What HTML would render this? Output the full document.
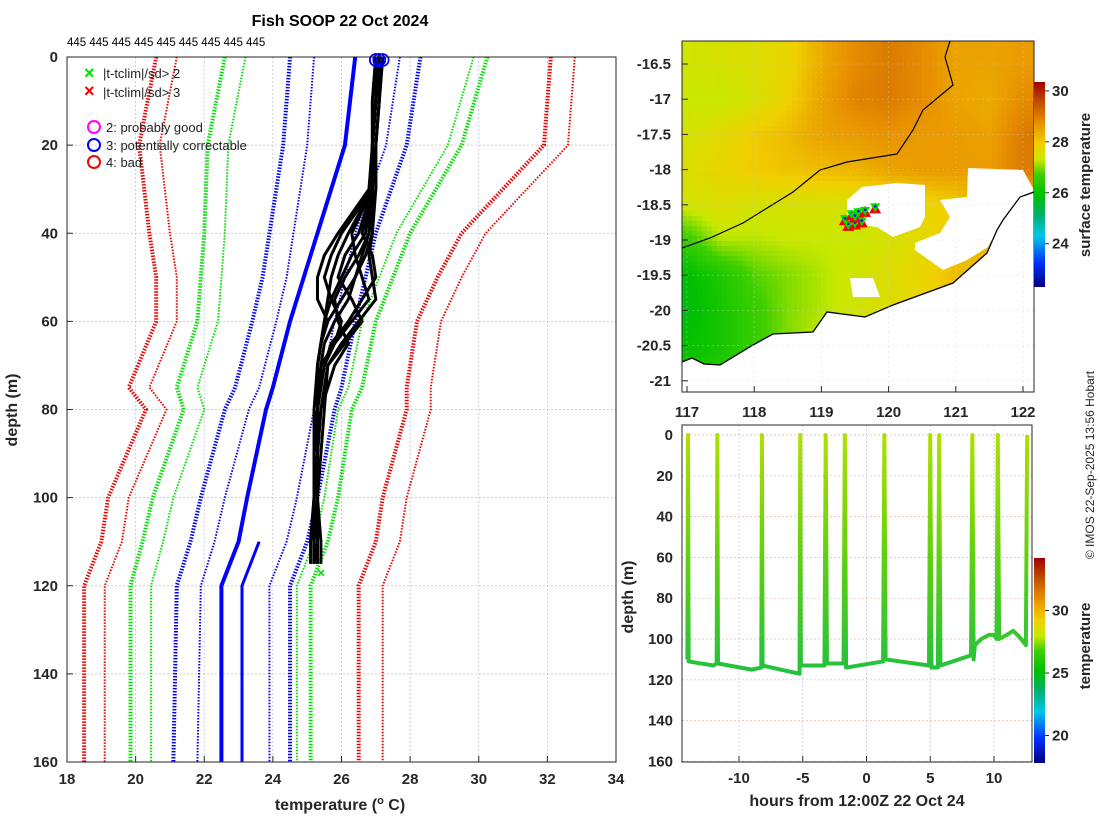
<!DOCTYPE html>
<html><head><meta charset="utf-8"><style>
body{margin:0;background:#fff}
svg{display:block;font-family:"Liberation Sans",sans-serif}
.tk{font-weight:bold;font-size:15px;fill:#262626}
</style></head><body>
<svg id="s" width="1100" height="820" viewBox="0 0 1100 820">
<defs>
<linearGradient id="cmap" x1="0" y1="1" x2="0" y2="0">
<stop offset="0" stop-color="#000080"/><stop offset="0.12" stop-color="#0030ff"/><stop offset="0.25" stop-color="#00c8e8"/><stop offset="0.35" stop-color="#00b070"/><stop offset="0.45" stop-color="#00c000"/><stop offset="0.55" stop-color="#40d000"/><stop offset="0.62" stop-color="#c8e800"/><stop offset="0.7" stop-color="#f0d000"/><stop offset="0.8" stop-color="#e89000"/><stop offset="0.9" stop-color="#c05000"/><stop offset="1" stop-color="#a00000"/>
</linearGradient>
<linearGradient id="trajg" gradientUnits="userSpaceOnUse" x1="0" y1="435" x2="0" y2="680">
<stop offset="0" stop-color="#b0e000"/><stop offset="0.5" stop-color="#60d010"/><stop offset="1" stop-color="#20c040"/>
</linearGradient>
<clipPath id="mapclip"><rect x="682" y="41" width="352" height="351"/></clipPath>
<clipPath id="brclip"><rect x="682" y="425" width="350" height="337"/></clipPath>
</defs>
<g id="left"></g><g id="map"></g><g id="br"></g>
<text x="340" y="26" text-anchor="middle" font-size="16" font-weight="bold">Fish SOOP 22 Oct 2024</text>
<text x="67" y="46" font-size="11.5">445 445 445 445 445 445 445 445 445</text>
<text x="340" y="810" text-anchor="middle" font-size="16" font-weight="bold" fill="#262626">temperature (<tspan font-size="11" dy="-6">o</tspan><tspan dy="6"> C)</tspan></text>
<text transform="translate(17,410) rotate(-90)" text-anchor="middle" font-size="16" font-weight="bold" fill="#262626">depth (m)</text>
<text x="857" y="806" text-anchor="middle" font-size="16" font-weight="bold" fill="#262626">hours from 12:00Z 22 Oct 24</text>
<text transform="translate(633,597) rotate(-90)" text-anchor="middle" font-size="16" font-weight="bold" fill="#262626">depth (m)</text>
<text transform="translate(1090,185) rotate(-90)" text-anchor="middle" font-size="15" font-weight="bold" fill="#262626">surface temperature</text>
<text transform="translate(1090,646) rotate(-90)" text-anchor="middle" font-size="15" font-weight="bold" fill="#262626">temperature</text>
<text transform="translate(1094,465) rotate(-90)" text-anchor="middle" font-size="12" fill="#262626">© IMOS 22-Sep-2025 13:56 Hobart</text>
<g id="lgd" font-size="13" fill="#222">
<text x="84" y="79" fill="#00e000" font-size="18" font-weight="bold">×</text><text x="103" y="78">|t-tclim|/sd&gt; 2</text>
<text x="84" y="97" fill="#f00000" font-size="18" font-weight="bold">×</text><text x="103" y="97">|t-tclim|/sd&gt; 3</text>
<circle cx="94" cy="127" r="6" fill="none" stroke="#f0f" stroke-width="2"/><text x="106" y="132">2: probably good</text>
<circle cx="94" cy="145" r="6" fill="none" stroke="#00f" stroke-width="2"/><text x="106" y="150">3: potentially correctable</text>
<circle cx="94" cy="162" r="6" fill="none" stroke="#f00" stroke-width="2"/><text x="106" y="167">4: bad</text>
</g>
</svg>
<script>
// ---------- left profile data ----------
const climDepth=[0,20,40,50,60,75,80,100,110,120,160];
const climMean=[26.4,26.1,25.3,24.9,24.5,24.0,23.8,23.25,23.0,22.5,22.5];
const sdMinus1=[24.5,24.3,23.9,23.7,23.4,22.9,22.6,21.9,21.6,21.2,21.1];
const sdPlus1=[28.3,27.9,27.0,26.7,26.4,26.0,25.8,25.3,25.0,24.5,24.5];
const sdMinus2=[22.6,22.1,22.0,21.9,21.8,21.2,21.4,20.5,20.2,19.85,19.85];
const sdPlus2=[30.25,29.5,28.0,27.5,27.0,26.6,26.3,25.9,25.6,25.1,25.1];
const sdMinus3=[20.6,20.1,20.4,20.6,20.6,19.8,20.3,19.2,19.0,18.5,18.5];
const sdPlus3=[32.1,31.9,29.5,28.8,28.2,27.9,27.9,27.2,27.0,26.5,26.5];
const prDepth=[0,10,20,30,40,45,50,55,60,65,70,80,90,100,110,115];
const profiles=[
[27.1,27.0,26.9,26.9,26.2,25.9,25.7,25.6,25.5,25.4,25.3,25.3,25.2,25.2,25.2,25.2],
[27.0,27.0,26.9,26.9,26.7,26.3,26.0,25.7,25.5,25.4,25.3,25.3,25.2,25.2,25.1,25.1],
[27.2,27.1,27.0,26.9,26.8,26.6,26.4,26.2,25.8,25.5,25.4,25.3,25.3,25.2,25.2,25.2],
[27.0,26.9,26.9,26.9,26.3,26.4,26.6,26.8,26.3,25.8,25.5,25.3,25.3,25.3,25.3,25.3],
[27.1,27.0,26.9,26.9,26.9,26.8,26.9,27.0,26.5,26.0,25.6,25.4,25.3,25.3,25.3,25.3],
[27.1,27.0,26.9,26.9,26.0,25.7,25.5,25.7,26.0,25.8,25.4,25.3,25.3,25.2,25.2,25.2],
[27.2,27.1,27.0,27.0,26.9,26.7,26.4,26.0,25.6,25.4,25.3,25.3,25.2,25.2,25.2,25.3],
[27.0,26.9,26.9,26.8,25.9,25.5,25.3,25.3,25.6,25.4,25.3,25.2,25.2,25.2,25.1,25.1],
[27.1,27.0,26.9,26.9,26.6,26.9,27.0,26.6,26.2,25.7,25.5,25.3,25.3,25.3,25.4,25.4],
[27.0,27.0,26.9,26.9,26.5,26.1,25.9,26.3,26.6,26.1,25.6,25.5,25.4,25.3,25.2,25.2],
[27.1,27.1,27.0,27.0,26.8,26.5,26.1,25.8,25.9,26.2,25.8,25.4,25.3,25.2,25.2,25.2]];
const flagTemp=[25.4], flagDepth=[117];
const tempTicks=[18,20,22,24,26,28,30,32,34];
const depthTicks=[0,20,40,60,80,100,120,140,160];
// ---------- map data ----------
const gridLon=[117,117.5,118,118.5,119,119.5,120,120.5,121,121.5,122];
const gridLat=[-16.5,-17,-17.5,-18,-18.5,-19,-19.5,-20,-20.5,-21];
const sst=[
[27.4,27.5,27.6,27.8,28.4,28.8,29.0,28.8,28.5,28.5,28.6],
[27.3,27.3,27.5,27.9,28.5,28.9,29.0,28.8,28.5,28.4,28.8],
[27.5,27.7,28.0,28.2,28.5,28.6,28.7,28.6,28.6,28.5,29.0],
[27.6,27.8,28.0,28.1,28.2,28.3,28.5,28.6,28.6,28.6,29.0],
[27.4,27.6,27.5,27.5,27.5,27.5,27.6,27.8,28.0,28.2,28.2],
[26.6,27.2,27.2,27.3,27.3,27.3,27.5,27.7,28.0,28.3,28.3],
[25.9,26.3,26.8,27.0,27.2,27.4,27.6,27.8,28.2,28.2,28.2],
[25.8,26.2,26.6,27.0,27.2,27.4,27.6,27.8,28.0,28.0,28.0],
[26.0,26.2,26.6,27.0,27.3,27.5,27.5,27.5,27.5,27.5,27.5],
[26.2,26.4,26.8,27.0,27.2,27.4,27.5,27.5,27.5,27.5,27.5]];
const lonTicks=[117,118,119,120,121,122];
const latTicks=[-16.5,-17,-17.5,-18,-18.5,-19,-19.5,-20,-20.5,-21];
const markerLon=[119.35,119.45,119.5,119.55,119.6,119.65,119.8,119.4,119.5];
const markerLat=[-18.72,-18.65,-18.78,-18.62,-18.75,-18.6,-18.55,-18.8,-18.68];
const sstCbTicks=[24,26,28,30];
// ---------- bottom-right data ----------
const trajHour=[-14.05,-14.0,-13.95,-12,-11.75,-11.7,-11.65,-9,-8.25,-8.2,-8.15,-6,-5.25,-5.2,-5.15,-3.3,-3.2,-3.1,-1.8,-1.7,-1.6,1.3,1.4,1.5,4.9,5.0,5.1,5.6,5.7,5.8,8.2,8.3,8.4,8.5,9,9.6,10.0,10.2,10.3,10.4,11,11.5,12.0,12.5,12.6];
const trajDepth=[110,0,111,113,112,0,112,115,114,0,113,116,117,0,113,113,0,112,112,0,114,111,0,110,113,0,114,114,0,113,108,0,110,103,100,98,98,100,0,100,98,96,99,103,0];
const hourTicks=[-10,-5,0,5,10];
const tempCbTicks=[20,25,30];

const svg=document.getElementById('s');const NS='http://www.w3.org/2000/svg';
function mk(tag,attrs,parent){const e=document.createElementNS(NS,tag);for(const k in attrs)e.setAttribute(k,attrs[k]);(parent||svg).appendChild(e);return e;}
function cmap(v,lo,hi){const st=[[0,0,0,128],[.12,0,48,255],[.25,0,200,232],[.35,0,176,112],[.45,0,192,0],[.55,64,208,0],[.62,200,232,0],[.7,240,208,0],[.8,232,144,0],[.9,192,80,0],[1,160,0,0]];
 let f=Math.max(0,Math.min(1,(v-lo)/(hi-lo)));for(let i=1;i<st.length;i++){if(f<=st[i][0]){const a=st[i-1],b=st[i],u=(f-a[0])/(b[0]-a[0]);return `rgb(${[1,2,3].map(j=>Math.round(a[j]+u*(b[j]-a[j]))).join(',')})`;}}return 'rgb(160,0,0)';}

// ===== LEFT PLOT =====
const tx=t=>67+(t-18)*549/16, dy=d=>57+d*705/160;
const L=document.getElementById('left');
tempTicks.forEach(t=>{if(t>18&&t<34){const g=mk('line',{x1:tx(t),x2:tx(t),y1:57,y2:762,stroke:'#b8c4dc','stroke-width':0.8,'stroke-dasharray':'2 2'},L);}
 const lb=mk('text',{x:tx(t),y:784,'text-anchor':'middle',class:'tk'},L);lb.textContent=t;
 mk('line',{x1:tx(t),x2:tx(t),y1:762,y2:756,stroke:'#262626'},L);});
depthTicks.forEach(d=>{if(d>0&&d<160){const g=mk('line',{x1:67,x2:616,y1:dy(d),y2:dy(d),stroke:'#e0b8a0','stroke-width':0.8,'stroke-dasharray':'2 2'},L);}
 const lb=mk('text',{x:58,y:dy(d)+5,'text-anchor':'end',class:'tk'},L);lb.textContent=d;
 mk('line',{x1:67,x2:73,y1:dy(d),y2:dy(d),stroke:'#262626'},L);});
function pts(ts,ds,off){return ts.map((t,i)=>tx(t+off)+','+dy(ds[i])).join(' ');}
[[sdMinus3,'#f00000',0.6],[sdPlus3,'#f00000',0.7],[sdMinus2,'#00e000',0.6],[sdPlus2,'#00e000',-0.4],[sdMinus1,'#0000ff',0.7],[sdPlus1,'#0000ff',-0.6]].forEach(([arr,c,off])=>{
 const a=mk('polyline',{points:pts(arr,climDepth,0),fill:'none',stroke:c,'stroke-width':4,'stroke-dasharray':'1.5 1.5'},L);
 const b=mk('polyline',{points:pts(arr,climDepth,off),fill:'none',stroke:c,'stroke-width':2,'stroke-dasharray':'1.5 1.5'},L);});
const m1=mk('polyline',{points:pts(climMean,climDepth,0),fill:'none',stroke:'#0000ff','stroke-width':4},L);
const m2=mk('polyline',{points:pts(climMean.slice(8),climDepth.slice(8),0.6),fill:'none',stroke:'#0000ff','stroke-width':3},L);
profiles.forEach(p=>{const pl=mk('polyline',{points:pts(p,prDepth,0),fill:'none',stroke:'#000','stroke-width':3},L);});
profiles.forEach(p=>{const c=mk('circle',{cx:tx(p[0]),cy:dy(0)+3,r:6,fill:'none',stroke:'#0000ff','stroke-width':1.5},L);});
flagTemp.forEach((t,i)=>{const x=mk('text',{x:tx(t),y:dy(flagDepth[i])+5,'text-anchor':'middle',fill:'#00e000','font-size':14,'font-weight':'bold'},L);x.textContent='×';});
const lb1=mk('rect',{x:67,y:57,width:549,height:705,fill:'none',stroke:'#262626','stroke-width':1},L);
svg.appendChild(document.getElementById('lgd'));

// ===== MAP =====
const M=document.getElementById('map');
const lx=l=>687+(l-117)*67.2, ly=l=>64+(-16.5-l)*70.4;
const mg=mk('g',{'clip-path':'url(#mapclip)'},M);
function sstAt(lo,la){let fj=(lo-gridLon[0])/0.5, fi=(gridLat[0]-la)/0.5;
 fj=Math.max(0,Math.min(gridLon.length-1.001,fj));fi=Math.max(0,Math.min(gridLat.length-1.001,fi));
 const i=Math.floor(fi),j=Math.floor(fj),u=fi-i,v=fj-j;
 return sst[i][j]*(1-u)*(1-v)+sst[i][j+1]*(1-u)*v+sst[i+1][j]*u*(1-v)+sst[i+1][j+1]*u*v;}
const step=5;
for(let y=41;y<392;y+=step)for(let x=682;x<1034;x+=step){
 const lo=117+(x+step/2-687)/67.2, la=-16.5-(y+step/2-64)/70.4;
 const r=mk('rect',{x:x,y:y,width:step+0.5,height:step+0.5,fill:cmap(sstAt(lo,la),22.3,30.35)},mg);
 
 }
[[ [862,187],[897,183],[925,185],[925,217],[920,227],[893,237],[877,227],[847,223],[847,200] ],
 [ [968,168],[1023,170],[1034,190],[997,230],[988,247],[967,260],[943,270],[915,250],[915,243],[940,233],[950,217],[940,200],[967,197] ],
 [ [850,278],[873,278],[880,297],[853,297] ]].forEach(p=>{const c=mk('polygon',{points:p.join(' '),fill:'#fff'},mg);});
const coast=[[682,362],[692,358],[704,364],[720,365],[753,345],[773,334],[813,332],[827,312],[865,317],[893,305],[953,283],[987,253],[997,230],[1003,220],[1020,197],[1034,192]];
const land=mk('polygon',{points:coast.concat([[1034,392],[682,392]]).join(' '),fill:'#fff'},mg);
const cl=mk('polyline',{points:coast.join(' '),fill:'none',stroke:'#000','stroke-width':1.3},mg);
const iso=mk('polyline',{points:[[682,248],[710,238],[743,223],[793,192],[820,170],[847,162],[897,154],[913,130],[923,110],[953,85],[945,57],[950,41]].join(' '),fill:'none',stroke:'#000','stroke-width':1.2},mg);
lonTicks.forEach(l=>{mk('line',{x1:lx(l),x2:lx(l),y1:41,y2:392,stroke:'#c8d0e4','stroke-width':0.6,'stroke-dasharray':'2 3','opacity':0.6},M);mk('line',{x1:lx(l),x2:lx(l),y1:392,y2:386,stroke:'#262626'},M);const t=mk('text',{x:lx(l),y:417,'text-anchor':'middle',class:'tk'},M);t.textContent=l;});
latTicks.forEach(l=>{mk('line',{x1:682,x2:1034,y1:ly(l),y2:ly(l),stroke:'#c8d0e4','stroke-width':0.6,'stroke-dasharray':'2 3','opacity':0.6},M);mk('line',{x1:682,x2:688,y1:ly(l),y2:ly(l),stroke:'#262626'},M);const t=mk('text',{x:671,y:ly(l)+5,'text-anchor':'end',class:'tk'},M);t.textContent=l;});
markerLon.forEach((lo,i)=>{const x=lx(lo),y=ly(markerLat[i]);
 const r=mk('polygon',{points:`${x},${y-6} ${x-6},${y+5} ${x+6},${y+5}`,fill:'#f00000'},M);
 const g=mk('polygon',{points:`${x-5},${y-5} ${x+5},${y-5} ${x},${y+4}`,fill:'#00e000'},M);
 mk('circle',{cx:x,cy:y-2,r:1.3,fill:'#0000ff'},M);});
const mb=mk('rect',{x:682,y:41,width:352,height:351,fill:'none',stroke:'#262626'},M);
const cb1=mk('rect',{x:1034,y:82,width:11,height:205,fill:'url(#cmap)'},M);
sstCbTicks.forEach(v=>{const y=287-(v-22.3)*205/8.05;mk('line',{x1:1045,x2:1049,y1:y,y2:y,stroke:'#262626'},M);const t=mk('text',{x:1052,y:y+5,class:'tk','font-size':14},M);t.textContent=v;});

// ===== BOTTOM RIGHT =====
const B=document.getElementById('br');
const hx=h=>739+(h+10)*12.75, by=d=>435+d*2.04;
hourTicks.forEach(h=>{mk('line',{x1:hx(h),x2:hx(h),y1:425,y2:762,stroke:'#b8c4dc','stroke-width':0.7,'stroke-dasharray':'2 2'},B);mk('line',{x1:hx(h),x2:hx(h),y1:762,y2:756,stroke:'#262626'},B);const t=mk('text',{x:hx(h),y:783,'text-anchor':'middle',class:'tk'},B);t.textContent=h;});
depthTicks.forEach(d=>{mk('line',{x1:682,x2:1032,y1:by(d),y2:by(d),stroke:'#e0b8a0','stroke-width':0.7,'stroke-dasharray':'2 2'},B);const t=mk('text',{x:673,y:by(d)+5,'text-anchor':'end',class:'tk'},B);t.textContent=d;});
const tr=mk('polyline',{points:trajHour.map((h,i)=>hx(h)+','+by(trajDepth[i])).join(' '),fill:'none',stroke:'url(#trajg)','stroke-width':4,'stroke-linejoin':'round','clip-path':'url(#brclip)'},B);
const bb=mk('rect',{x:682,y:425,width:350,height:337,fill:'none',stroke:'#262626'},B);
const cb2=mk('rect',{x:1034,y:558,width:11,height:205,fill:'url(#cmap)'},B);
tempCbTicks.forEach(v=>{const y=763-(v-17.8)*12.5;mk('line',{x1:1045,x2:1049,y1:y,y2:y,stroke:'#262626'},B);const t=mk('text',{x:1052,y:y+5,class:'tk','font-size':14},B);t.textContent=v;});
</script>
</body></html>
